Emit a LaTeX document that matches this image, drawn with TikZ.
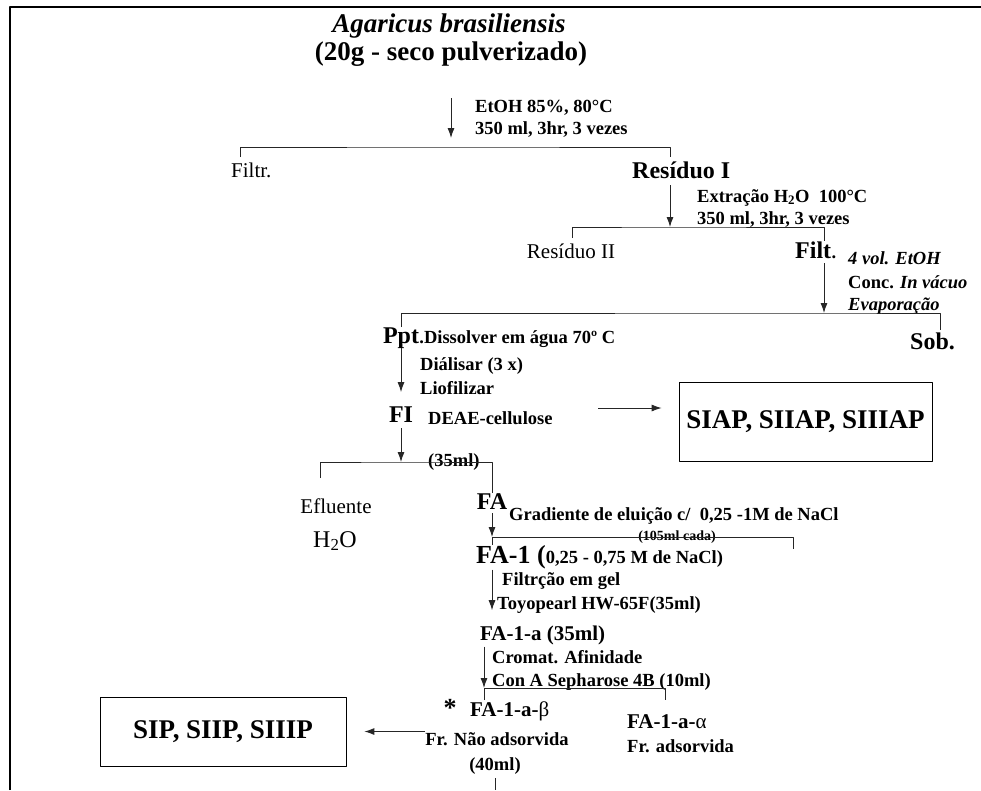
\documentclass[tikz,border=0pt]{standalone}
\usepackage{fontspec}
\setmainfont{Liberation Serif}
\usetikzlibrary{arrows.meta,positioning}

\begin{document}
\begin{tikzpicture}[x=1pt,y=-1pt,>={Latex[length=10pt,width=7pt]},line join=round,
	lbl/.style={font=\fontsize{18.5}{22}\selectfont\bfseries,anchor=base west,inner sep=0pt},
	stage/.style={font=\fontsize{24}{26}\selectfont\bfseries,anchor=base,inner sep=0pt},
	weak/.style={font=\fontsize{21}{24}\selectfont,anchor=base,inner sep=0pt},
	frac/.style={font=\fontsize{21}{24}\selectfont\bfseries,anchor=base west,inner sep=0pt},
	result/.style={draw,line width=0.8pt,font=\fontsize{27}{30}\selectfont\bfseries,inner sep=0pt},
	conn/.style={line width=0.9pt,black!85}]
	\useasboundingbox (0,0) rectangle (981,790);
	\draw[line width=2pt] (10,790)--(10,7)--(981,7);
	% start material
	\node[font=\fontsize{27}{30}\selectfont\bfseries\itshape,anchor=base,inner sep=0pt] (top1) at (449,32) {Agaricus brasiliensis};
	\node[font=\fontsize{27}{30}\selectfont\bfseries,anchor=base,inner sep=0pt] (top2) at (451,60) {(20g - seco pulverizado)};
	\node[lbl] (etoh) at (475,112) {EtOH 85\%, 80°C};
	\node[lbl] (etoh2) at (475,134) {350 ml, 3hr, 3 vezes};
	\coordinate (j1) at (451,147);
	\coordinate (l1) at (240,157);
	\coordinate (r1) at (670,157);
	\draw[conn,->,shorten <=32pt,shorten >=9pt] (top2.south) -- (j1);
	\draw[conn] (l1) |- (j1) -| (r1);
	\node[weak,anchor=base west] (filtr) at (231,177) {Filtr.};
	\node[stage,anchor=base west] (res1) at (632,178) {Resíduo I};
	% hot water
	\node[lbl] (extr) at (697,202) {Extração H\textsubscript{2}O\ \ 100°C};
	\node[lbl] (extr2) at (697,224) {350 ml, 3hr, 3 vezes};
	\coordinate (j2) at (670,227);
	\coordinate (l2) at (572,238);
	\coordinate (r2) at (824,241);
	\draw[conn,->,shorten <=7pt] (res1.south -| j2) -- (j2);
	\draw[conn] (l2) |- (j2) -| (r2);
	\node[weak] (res2) at (571,258) {Resíduo II};
	\node[stage,anchor=base west] (filt) at (795,258) {Filt};
	\node[lbl] (filtdot) at (filt.base east) {.};
	\node[lbl] (vol) at (848,264) {\itshape 4 vol. EtOH};
	\node[lbl] (conc) at (848,288) {Conc. \itshape In vácuo};
	\node[lbl] (evap) at (848,310) {\itshape Evaporação};
	% ethanol precipitation
	\coordinate (j3) at (824,313);
	\coordinate (r3) at (940,330);
	\draw[conn,->,shorten <=5pt] (filt.south -| j3) -- (j3);
	\node[stage] (ppt) at (401,343) {Ppt};
	\draw[conn] (ppt.north) |- (j3) -| (r3);
	\node[stage,anchor=base west] (sob) at (910,349) {Sob.};
	\node[lbl] (diss) at (ppt.base east) {.Dissolver em água 70º C};
	\node[lbl] (dial) at (420,370) {Diálisar (3 x)};
	\node[lbl] (liof) at (420,394) {Liofilizar};
	\node[stage] (fi) at (401,422) {FI};
	\draw[conn,->,shorten >=14pt] (ppt) -- (fi);
	\node[lbl] (deae) at (428,424) {DEAE-cellulose};
	\node[lbl] (ml35) at (428,466) {(35ml)};
	\node[result,minimum width=253pt,minimum height=79pt] (siap) at (805.5,421.5) {SIAP, SIIAP, SIIIAP};
	\coordinate (d1) at (598,408);
	\draw[conn,->,shorten >=17pt] (d1) -- (d1 -| siap.west);
	% DEAE
	\coordinate (j4) at (401,462);
	\coordinate (l4) at (320,478);
	\node[stage] (fa) at (492,509) {FA};
	\draw[conn,->,shorten <=6pt] (fi.south) -- (j4);
	\draw[conn] (l4) |- (j4) -| (fa.north);
	\node[weak] (eflu) at (336,513) {Efluente};
	\node[weak,font=\fontsize{24}{26}\selectfont] (h2o) at (335,547) {H\textsubscript{2}O};
	\node[lbl] (grad) at (509,520) {Gradiente de eluição c/\ \ 0,25 -1M de NaCl};
	\node[font=\fontsize{14}{16}\selectfont\bfseries,anchor=base,inner sep=0pt] (cada) at (677,540) {(105ml cada)};
	\coordinate (j5) at (492,537);
	\coordinate (l5) at (492,545);
	\coordinate (r5) at (793,549);
	\draw[conn,->,shorten <=4pt] (fa.south) -- (j5);
	\draw[conn] (l5) |- (j5) -| (r5);
	\node[lbl,font=\fontsize{26}{28}\selectfont\bfseries] (fa1) at (476,563) {FA-1 (\fontsize{18.5}{22}\selectfont 0,25 - 0,75 M de NaCl)};
	% gel filtration
	\node[lbl] (gel) at (502,585) {Filtrção em gel};
	\node[lbl] (toyo) at (497,609) {Toyopearl HW-65F(35ml)};
	\node[frac] (fa1a) at (480,640) {FA-1-a (35ml)};
	\draw[conn,->,shorten <=1pt,shorten >=15pt] (fa1.south -| j5) -- (fa1a.north -| j5);
	% affinity
	\node[lbl] (crom) at (492,663) {Cromat. Afinidade};
	\node[lbl] (cona) at (492,686) {Con A Sepharose 4B (10ml)};
	\coordinate (j6) at (484,688);
	\coordinate (l6) at (484,700);
	\coordinate (r6) at (665,700);
	\draw[conn,->,shorten <=2pt] (fa1a.south -| j6) -- (j6);
	\draw[conn] (l6) |- (j6) -| (r6);
	\node[stage,font=\fontsize{26}{28}\selectfont\bfseries] (star) at (450,716) {*};
	\node[frac] (fab) at (470,716) {FA-1-a-{\mdseries β}};
	\node[frac] (faa) at (627,728) {FA-1-a-{\mdseries α}};
	\node[lbl,anchor=base] (nao) at (497,745) {Fr. Não adsorvida};
	\node[lbl] (ads) at (627,752) {Fr. adsorvida};
	\node[lbl,anchor=base] (ml40) at (495,770) {(40ml)};
	\coordinate (cut) at (495,790);
	\draw[conn,shorten <=4pt] (ml40.south) -- (cut);
	\node[result,minimum width=246pt,minimum height=69pt] (sip) at (223,731.5) {SIP, SIIP, SIIIP};
	\draw[conn,->,shorten >=18pt] (sip.east -| nao.west) -- (sip.east);
\end{tikzpicture}
\end{document}
